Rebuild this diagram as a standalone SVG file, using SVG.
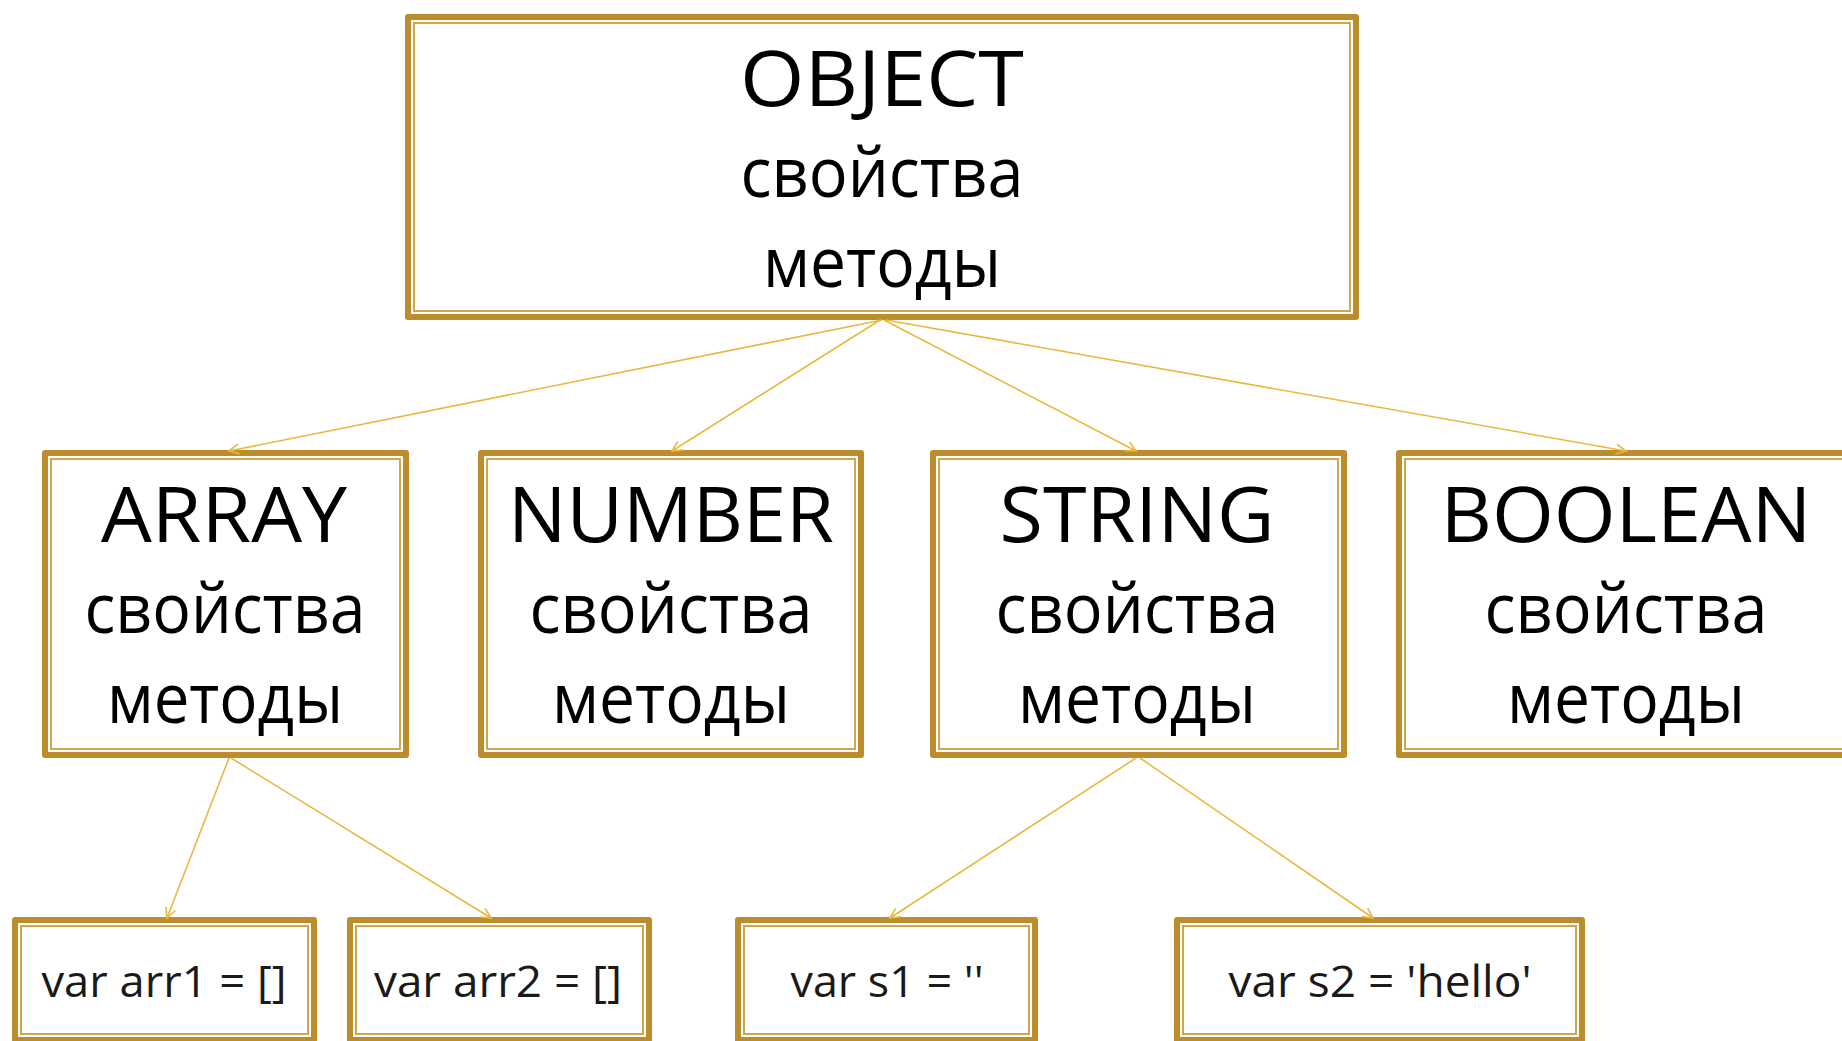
<svg xmlns="http://www.w3.org/2000/svg" width="1842" height="1041" viewBox="0 0 1842 1041">
  <style>
    .frame { fill: #ffffff; stroke: #BB8D2C; stroke-width: 6; stroke-linejoin: round; }
    .inner { fill: none; stroke: #CFA64A; stroke-width: 2; }
    .title { font-family: "Open Sans", "Noto Sans", "DejaVu Sans", sans-serif; font-size: 76px; fill: #000000; text-anchor: middle; }
    .sub { font-family: "Open Sans", "Noto Sans", "DejaVu Sans", sans-serif; font-size: 70px; fill: #000000; text-anchor: middle; }
    .code { font-family: "Open Sans", "Noto Sans", "DejaVu Sans", sans-serif; font-size: 44px; fill: #1a1a1a; text-anchor: middle; }
    .link { fill: none; stroke: #E8B940; stroke-width: 1.6; marker-end: url(#arrow); }
  </style>
  <defs>
    <marker id="arrow" markerUnits="userSpaceOnUse" markerWidth="14" markerHeight="14" refX="11" refY="6" orient="auto">
      <path d="M1,1 L11,6 L1,11" fill="none" stroke="#E8B940" stroke-width="1.6"/>
    </marker>
  </defs>
  <rect width="1842" height="1041" fill="#ffffff"/>

  <!-- base type -->
  <g id="object">
    <rect class="frame" x="408" y="17" width="948" height="300"/>
    <rect class="inner" x="414" y="23" width="936" height="288"/>
    <text class="title" x="882" y="106" textLength="284" lengthAdjust="spacingAndGlyphs">OBJECT</text>
    <text class="sub" x="882" y="197" textLength="283" lengthAdjust="spacingAndGlyphs">свойства</text>
    <text class="sub" x="882" y="287" textLength="238" lengthAdjust="spacingAndGlyphs">методы</text>
  </g>

  <!-- derived types -->
  <g id="array">
    <rect class="frame" x="45" y="453" width="361" height="302"/>
    <rect class="inner" x="51" y="459" width="349" height="290"/>
    <text class="title" x="224" y="542" textLength="246" lengthAdjust="spacingAndGlyphs">ARRAY</text>
    <text class="sub" x="225" y="633" textLength="281" lengthAdjust="spacingAndGlyphs">свойства</text>
    <text class="sub" x="225" y="723" textLength="236" lengthAdjust="spacingAndGlyphs">методы</text>
  </g>
  <g id="number">
    <rect class="frame" x="481" y="453" width="380" height="302"/>
    <rect class="inner" x="487" y="459" width="368" height="290"/>
    <text class="title" x="671" y="542" textLength="326" lengthAdjust="spacingAndGlyphs">NUMBER</text>
    <text class="sub" x="671" y="633" textLength="283" lengthAdjust="spacingAndGlyphs">свойства</text>
    <text class="sub" x="671" y="723" textLength="238" lengthAdjust="spacingAndGlyphs">методы</text>
  </g>
  <g id="string">
    <rect class="frame" x="933" y="453" width="411" height="302"/>
    <rect class="inner" x="939" y="459" width="399" height="290"/>
    <text class="title" x="1137" y="542" textLength="275" lengthAdjust="spacingAndGlyphs">STRING</text>
    <text class="sub" x="1137" y="633" textLength="283" lengthAdjust="spacingAndGlyphs">свойства</text>
    <text class="sub" x="1137" y="723" textLength="238" lengthAdjust="spacingAndGlyphs">методы</text>
  </g>
  <g id="boolean">
    <rect class="frame" x="1399" y="453" width="454" height="302"/>
    <rect class="inner" x="1405" y="459" width="442" height="290"/>
    <text class="title" x="1626" y="542" textLength="371" lengthAdjust="spacingAndGlyphs">BOOLEAN</text>
    <text class="sub" x="1626" y="633" textLength="283" lengthAdjust="spacingAndGlyphs">свойства</text>
    <text class="sub" x="1626" y="723" textLength="238" lengthAdjust="spacingAndGlyphs">методы</text>
  </g>

  <!-- instances -->
  <g id="arr1">
    <rect class="frame" x="15" y="920" width="299" height="120"/>
    <rect class="inner" x="21" y="926" width="287" height="108"/>
    <text class="code" x="164" y="997" textLength="245" lengthAdjust="spacingAndGlyphs">var arr1 = []</text>
  </g>
  <g id="arr2">
    <rect class="frame" x="350" y="920" width="299" height="120"/>
    <rect class="inner" x="356" y="926" width="287" height="108"/>
    <text class="code" x="498" y="997" textLength="248" lengthAdjust="spacingAndGlyphs">var arr2 = []</text>
  </g>
  <g id="s1">
    <rect class="frame" x="738" y="920" width="297" height="120"/>
    <rect class="inner" x="744" y="926" width="285" height="108"/>
    <text class="code" x="887" y="997" textLength="193" lengthAdjust="spacingAndGlyphs">var s1 = ''</text>
  </g>
  <g id="s2">
    <rect class="frame" x="1177" y="920" width="405" height="120"/>
    <rect class="inner" x="1183" y="926" width="393" height="108"/>
    <text class="code" x="1380" y="997" textLength="303" lengthAdjust="spacingAndGlyphs">var s2 = 'hello'</text>
  </g>

  <!-- inheritance links -->
  <g id="connectors">
    <line class="link" x1="882" y1="320" x2="229" y2="451"/>
    <line class="link" x1="880" y1="320" x2="672" y2="451"/>
    <line class="link" x1="884" y1="320" x2="1136" y2="451"/>
    <line class="link" x1="886" y1="320" x2="1626" y2="451"/>
    <line class="link" x1="229" y1="758" x2="167" y2="918"/>
    <line class="link" x1="231" y1="758" x2="491" y2="918"/>
    <line class="link" x1="1136" y1="758" x2="890" y2="918"/>
    <line class="link" x1="1140" y1="758" x2="1373" y2="918"/>
  </g>
</svg>
